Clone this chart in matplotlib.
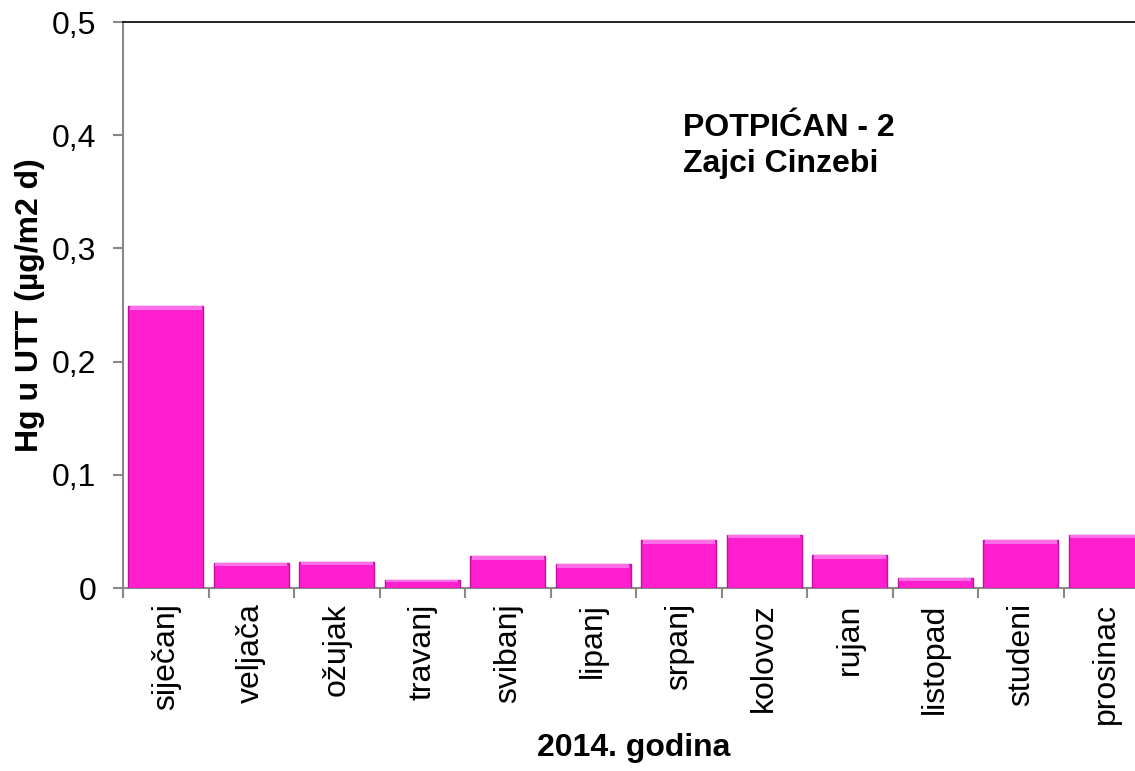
import numpy as np
import matplotlib.pyplot as plt

months = ['siječanj', 'veljača', 'ožujak', 'travanj', 'svibanj', 'lipanj',
          'srpanj', 'kolovoz', 'rujan', 'listopad', 'studeni', 'prosinac']
hg = [0.249, 0.022, 0.023, 0.007, 0.028, 0.021, 0.042, 0.047, 0.029, 0.009, 0.042, 0.047]

plt.rcParams['font.family'] = ['Liberation Sans', 'DejaVu Sans']
fs = 23

fig = plt.figure(figsize=(11.35, 7.71), dpi=100)
# axes runs past the right edge of the picture, like the original
ax = fig.add_axes([123 / 1135, 1 - 588 / 771, 1026 / 1135, 566 / 771])

x = np.arange(len(months))
bars = ax.bar(x, hg, width=0.88, color='#FF1FCF', edgecolor='#C010A0', linewidth=1.0, zorder=3)
# light strip on top of each bar for the bevel look
for b in bars:
    h = b.get_height()
    t = min(0.003, h * 0.3)
    ax.bar(b.get_x() + b.get_width() / 2, t, width=b.get_width() * 0.96,
           bottom=h - t, color='#FF70E8', linewidth=0, zorder=4)

ax.set_xlim(-0.5, len(months) - 0.5)
ax.set_ylim(0, 0.5)
ax.set_yticks([0, 0.1, 0.2, 0.3, 0.4, 0.5])
ax.set_yticklabels(['0', '0,1', '0,2', '0,3', '0,4', '0,5'], fontsize=fs)
ax.set_xticks(x)
ax.set_xticklabels(months, rotation=90, fontsize=fs)
ax.set_xticks(np.arange(len(months) + 1) - 0.5, minor=True)
ax.tick_params(axis='x', which='major', length=0, pad=11)
ax.tick_params(axis='x', which='minor', length=7, color='#888888', width=1.5)
ax.tick_params(axis='y', length=7, color='#888888', width=1.5, pad=12)

for s in ['left', 'bottom']:
    ax.spines[s].set_color('#888888')
    ax.spines[s].set_linewidth(1.5)
ax.spines['right'].set_visible(False)
ax.spines['top'].set_color('black')
ax.spines['top'].set_linewidth(1.2)

ax.set_ylabel('Hg u UTT (µg/m2 d)', fontsize=fs, fontweight='bold', labelpad=5)
fig.text(634 / 1135, 1 - 748 / 771, '2014. godina', fontsize=fs, fontweight='bold',
         ha='center', va='center')
fig.text(683 / 1135, 1 - 146 / 771, 'POTPIĆAN - 2\nZajci Cinzebi',
         fontsize=fs, fontweight='bold', ha='left', va='center', linespacing=1.3)

fig.savefig('out.png', dpi=100)
